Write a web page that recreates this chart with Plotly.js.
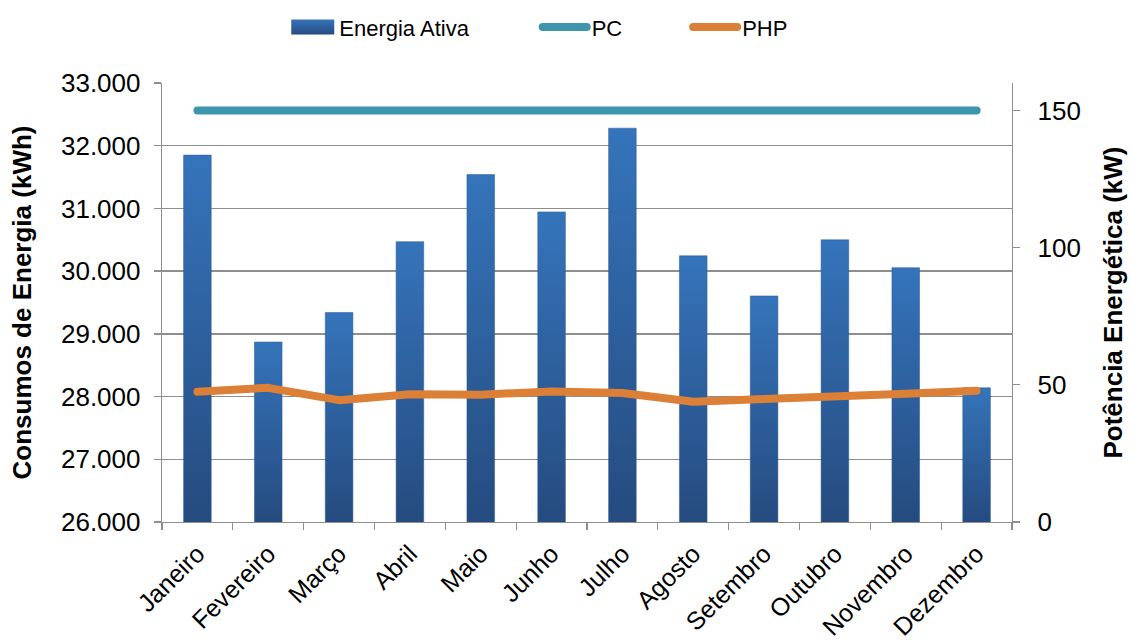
<!DOCTYPE html>
<html>
<head>
<meta charset="utf-8">
<script src="https://cdn.plot.ly/plotly-3.0.1.min.js"></script>
<style>
  html, body { margin: 0; padding: 0; background: #fff; }
  #chart { width: 1130px; height: 642px; }
</style>
</head>
<body>
<div id="chart"></div>
<script>
// Monthly active energy (kWh) with contracted (PC) and peak-hour (PHP) power (kW)
const meses = ["Janeiro", "Fevereiro", "Março", "Abril", "Maio", "Junho",
               "Julho", "Agosto", "Setembro", "Outubro", "Novembro", "Dezembro"];
const energiaAtiva = [31850, 28870, 29340, 30470, 31540, 30945,
                      32280, 30245, 29605, 30500, 30055, 28140];
const potenciaContratada = [150, 150, 150, 150, 150, 150, 150, 150, 150, 150, 150, 150];
const potenciaHorasPonta = [47.5, 48.9, 44.4, 46.6, 46.4, 47.6,
                            47.0, 43.8, 44.8, 45.4, 46.7, 47.8];
const ticksEnergia = [26000, 27000, 28000, 29000, 30000, 31000, 32000, 33000];
const ticksEnergiaTxt = ["26.000", "27.000", "28.000", "29.000", "30.000", "31.000", "32.000", "33.000"];
const ticksPotencia = [0, 50, 100, 150];

const FONT = "Liberation Sans, Arial, Helvetica, sans-serif";
const GRID = "#8e8e8e";
const SHADE_TOP = "#3574bb";
const SHADE_BASE = "#254b7f";

const traces = [
  {
    type: "bar", name: "Energia Ativa", x: meses, y: energiaAtiva,
    marker: { color: "#2f63a5", line: { color: "#2a5894", width: 0.5 } },
    legend: "legend", yaxis: "y"
  },
  {
    type: "scatter", mode: "lines", name: "PC", x: meses, y: potenciaContratada,
    line: { color: "#3d96ae", width: 8 },
    legend: "legend2", yaxis: "y2"
  },
  {
    type: "scatter", mode: "lines", name: "PHP", x: meses, y: potenciaHorasPonta,
    line: { color: "#dc7f37", width: 8 },
    legend: "legend3", yaxis: "y2"
  }
];

const legendBase = {
  orientation: "h", yanchor: "middle", y: 1.127, xanchor: "left",
  font: { family: FONT, size: 22, color: "#000" },
  bgcolor: "rgba(0,0,0,0)", itemwidth: 44, tracegroupgap: 0
};

const layout = {
  width: 1130, height: 642,
  margin: { l: 162, r: 118, t: 83, b: 120, autoexpand: false },
  paper_bgcolor: "#fff", plot_bgcolor: "#fff",
  font: { family: FONT, color: "#000" },
  bargap: 0.61,
  showlegend: true,
  legend: Object.assign({}, legendBase, { x: 0.145 }),
  legend2: Object.assign({}, legendBase, { x: 0.442 }),
  legend3: Object.assign({}, legendBase, { x: 0.619 }),
  xaxis: {
    type: "category",
    tickangle: -45,
    tickfont: { family: FONT, size: 25, color: "#000" },
    ticks: "outside", tickson: "boundaries", ticklen: 7, tickcolor: GRID, tickwidth: 1.3,
    ticklabelstandoff: 6,
    showline: true, linecolor: GRID, linewidth: 1.3,
    showgrid: false, zeroline: false
  },
  yaxis: {
    range: [26000, 33000],
    tickvals: ticksEnergia, ticktext: ticksEnergiaTxt,
    tickfont: { family: FONT, size: 26, color: "#000" },
    ticks: "outside", ticklen: 7, tickcolor: GRID, tickwidth: 1.3,
    ticklabelstandoff: 8,
    showline: true, linecolor: GRID, linewidth: 1.3,
    showgrid: true, gridcolor: GRID, gridwidth: 1.3, zeroline: false,
    title: { text: "<b>Consumos de Energia (kWh)</b>", font: { family: FONT, size: 26, color: "#000" }, standoff: 22 }
  },
  yaxis2: {
    overlaying: "y", side: "right",
    range: [0, 160],
    tickvals: ticksPotencia,
    tickfont: { family: FONT, size: 26, color: "#000" },
    ticks: "outside", ticklen: 7, tickcolor: GRID, tickwidth: 1.3,
    ticklabelstandoff: 12,
    showline: true, linecolor: GRID, linewidth: 1.3,
    showgrid: false, zeroline: false,
    title: { text: "<b>Potência Energética (kW)</b>", font: { family: FONT, size: 26, color: "#000" }, standoff: 24 }
  }
};

const SVGNS = "http://www.w3.org/2000/svg";

function getDefs(svg) {
  let defs = svg.querySelector("defs");
  if (!defs) { defs = document.createElementNS(SVGNS, "defs"); svg.insertBefore(defs, svg.firstChild); }
  return defs;
}

// vertical gradient; when y-extent is given it is laid out in user space
function makeGradient(defs, id, y1, y2) {
  let grad = defs.querySelector("#" + id);
  if (grad) grad.remove();
  grad = document.createElementNS(SVGNS, "linearGradient");
  grad.setAttribute("id", id);
  if (y1 === undefined) {
    grad.setAttribute("x1", "0"); grad.setAttribute("y1", "0");
    grad.setAttribute("x2", "0"); grad.setAttribute("y2", "1");
  } else {
    grad.setAttribute("gradientUnits", "userSpaceOnUse");
    grad.setAttribute("x1", "0"); grad.setAttribute("y1", String(y1));
    grad.setAttribute("x2", "0"); grad.setAttribute("y2", String(y2));
  }
  [["0", SHADE_TOP], ["1", SHADE_BASE]].forEach(function (s) {
    const stop = document.createElementNS(SVGNS, "stop");
    stop.setAttribute("offset", s[0]);
    stop.setAttribute("stop-color", s[1]);
    grad.appendChild(stop);
  });
  defs.appendChild(grad);
}

function decorate(gd) {
  const svg = gd.querySelector("svg.main-svg");
  const defs = getDefs(svg);
  const plotH = gd._fullLayout._size.h;

  // each bar shaded from its visible top down to the axis floor
  gd.querySelectorAll(".barlayer .point path").forEach(function (p, i) {
    const top = Math.max(0, p.getBBox().y);
    const id = "barShade" + i;
    makeGradient(defs, id, top, plotH);
    p.style.removeProperty("fill");
    p.setAttribute("fill", "url(#" + id + ")");
  });

  // the bar series gets a wide rectangular swatch in its legend
  makeGradient(defs, "legendShade");
  const barLegend = gd.querySelector(".legend .legendpoints path");
  if (barLegend && !barLegend.closest(".legendlines")) {
    barLegend.setAttribute("d", "M-21,-7.5H22V7.5H-21Z");
    barLegend.style.removeProperty("fill");
    barLegend.setAttribute("fill", "url(#legendShade)");
    barLegend.style.setProperty("stroke-width", "0");
  }

  // round ends on the power lines
  gd.querySelectorAll(".scatterlayer .js-line, .legendlines path").forEach(function (p) {
    p.style.strokeLinecap = "round";
    p.style.strokeLinejoin = "round";
  });
}

const chartDiv = document.getElementById("chart");
Plotly.newPlot(chartDiv, traces, layout, { staticPlot: true, displayModeBar: false }).then(function (gd) {
  decorate(gd);
  gd.on("plotly_afterplot", function () { decorate(gd); });
});
</script>
</body>
</html>
